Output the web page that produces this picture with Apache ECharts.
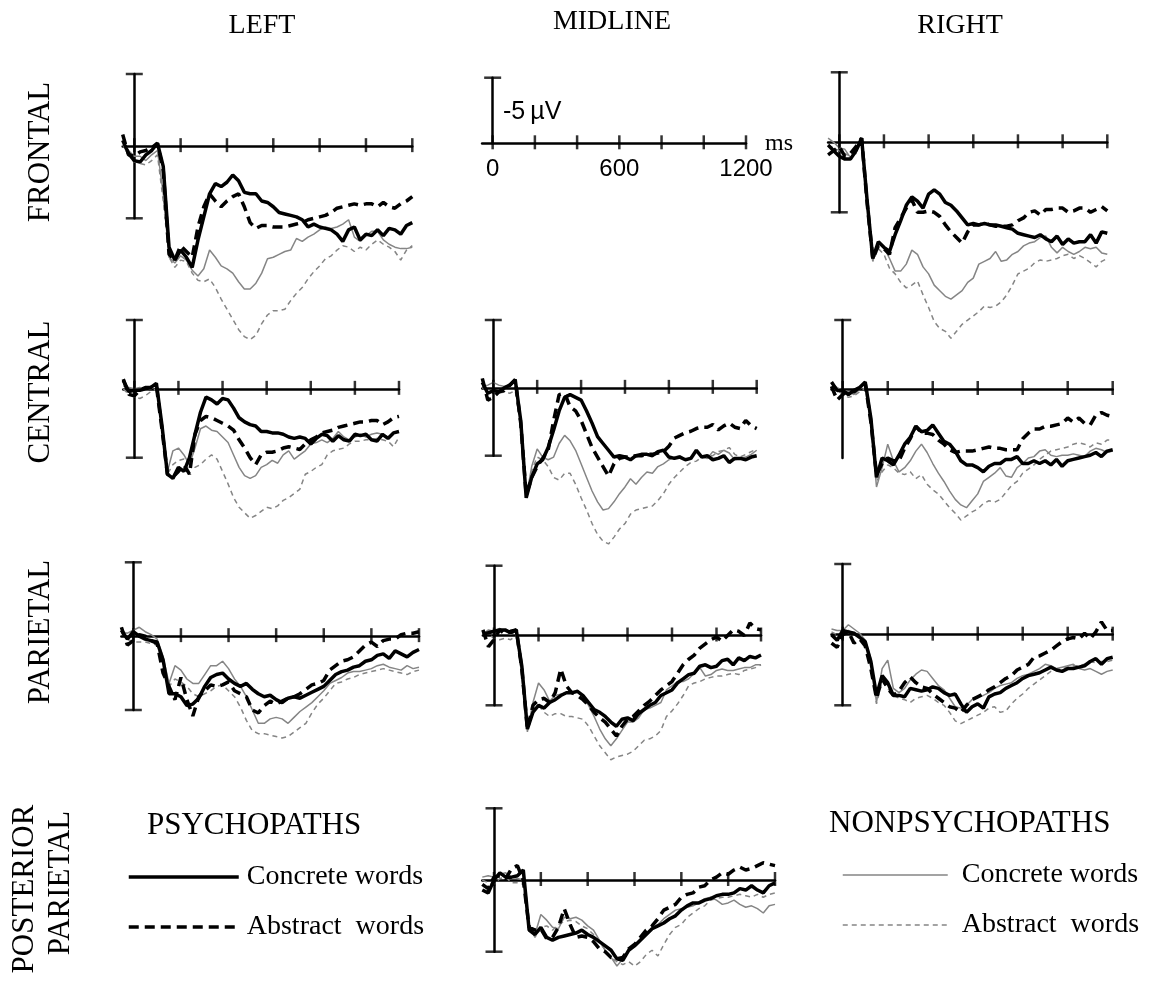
<!DOCTYPE html>
<html>
<head>
<meta charset="utf-8">
<script src="https://cdn.jsdelivr.net/npm/echarts/dist/echarts.min.js"></script>
<style>
html,body{margin:0;padding:0;background:#fff;}
#chart{width:1150px;height:982px;}
</style>
</head>
<body>
<div id="chart"></div>
<script>
// ---------- DATA ----------
const times = [-50,-25,0,25,50,75,100,125,150,175,200,225,250,275,300,325,350,375,400,425,450,475,500,525,550,575,600,625,650,675,700,725,750,775,800,825,850,875,900,925,950,975,1000,1025,1050,1075,1100,1125,1150,1175,1200];
const xTickValues = [0,200,400,600,800,1000,1200];
const scaleLabelValues = [0,600,1200];
const seriesNames = ['Psychopaths concrete','Psychopaths abstract','Nonpsychopaths concrete','Nonpsychopaths abstract'];
const legendLabels = ['Concrete words','Abstract  words','Concrete words','Abstract  words'];
const columnTitles = ['LEFT','MIDLINE','RIGHT'];
const rowTitles = ['FRONTAL','CENTRAL','PARIETAL'];

// Frontal left
const FL_PC = [-0.4,0.5,1.0,1.1,0.6,0.3,-0.2,1.4,7.0,7.9,7.2,7.7,8.4,6.5,4.9,3.3,2.6,2.8,2.5,2.0,2.4,3.2,3.3,3.3,3.8,3.9,4.2,4.6,4.7,4.8,4.9,5.1,5.6,5.4,5.6,5.7,5.8,6.1,6.6,5.8,5.6,6.5,6.1,6.2,5.8,6.2,5.7,5.8,6.1,5.5,5.3];
const FL_PA = [-0.8,0.6,0.7,0.4,0.3,0.1,-0.2,1.7,7.5,7.9,6.9,7.3,7.7,5.6,4.2,3.3,3.8,4.2,3.8,3.5,3.3,4.2,5.3,5.7,5.5,5.5,5.6,5.6,5.6,5.5,5.4,5.3,5.1,5.0,4.9,4.8,4.6,4.3,4.2,4.1,4.0,4.1,4.0,4.0,4.2,3.9,4.2,4.3,4.0,3.8,3.5];
const FL_NC = [-0.3,0.3,0.7,0.7,1.0,0.6,0.3,3.3,7.7,8.1,7.6,7.9,8.6,9.0,8.5,7.2,7.7,8.3,8.5,8.8,9.4,9.9,9.9,9.5,8.8,7.8,7.7,7.5,7.3,7.2,6.4,6.6,6.3,6.1,5.8,5.6,5.7,5.6,5.4,5.1,6.3,6.6,6.2,5.9,5.9,6.5,6.8,7.0,7.1,7.1,7.0];
const FL_NA = [-0.1,0.6,1.1,1.2,1.3,1.0,0.6,3.8,7.7,8.4,7.9,8.0,8.8,9.3,9.4,9.2,9.8,10.6,11.3,12.0,12.7,13.2,13.4,13.1,12.3,11.7,11.4,11.4,11.3,10.7,10.2,9.8,9.2,8.7,8.3,7.8,7.6,7.2,6.9,7.0,7.3,7.0,7.2,6.8,6.5,6.8,7.0,7.3,7.9,7.2,6.9];
// Central left
const CL_PC = [-0.6,0.2,0.1,0.1,0.0,-0.1,-0.4,2.6,6.2,6.5,5.7,6.0,5.0,3.3,1.7,0.6,0.8,1.1,0.7,0.8,1.4,2.1,2.4,2.6,2.7,3.1,3.1,3.2,3.2,3.3,3.5,3.6,3.5,3.6,4.0,3.6,3.3,3.4,3.8,3.4,3.7,3.8,3.3,3.4,3.3,3.7,3.8,3.3,3.6,3.2,3.1];
const CL_PA = [-0.7,0.4,0.5,0.1,-0.1,-0.1,-0.2,2.9,6.2,6.4,6.0,5.5,6.2,3.3,2.3,2.0,2.1,2.3,2.5,2.7,3.0,3.7,4.3,5.0,5.5,4.8,4.6,4.6,4.5,4.3,4.2,4.3,4.4,4.0,3.7,3.5,3.2,3.1,3.0,2.8,2.7,2.6,2.5,2.4,2.4,2.3,2.3,2.6,2.4,2.1,2.0];
const CL_NC = [-0.2,-0.1,0.0,-0.1,0.1,0.0,-0.4,2.4,6.0,4.5,4.3,4.8,5.5,4.3,2.9,2.7,3.0,3.1,3.5,3.9,4.8,5.7,6.3,6.5,6.3,5.7,5.5,5.2,5.4,4.8,4.5,5.1,4.8,4.5,4.0,3.9,3.7,3.9,3.6,3.1,3.5,3.7,3.5,3.3,3.5,3.3,3.2,3.3,3.5,3.2,3.1];
const CL_NA = [0.0,0.4,0.6,0.7,0.5,0.2,0.0,2.9,6.2,5.5,5.2,5.1,5.5,5.7,5.5,5.1,4.8,5.1,6.0,6.9,7.9,8.6,9.0,9.4,9.2,8.9,8.6,8.7,8.5,8.1,7.9,7.6,7.3,6.2,6.0,5.7,5.5,4.8,4.5,4.4,4.3,4.0,3.8,3.8,3.7,3.7,3.6,3.7,3.8,4.2,3.5];
// Parietal left
const PL_PC = [-0.4,0.2,-0.3,0.0,0.2,0.3,0.4,1.6,3.9,3.9,4.1,4.7,4.6,4.2,3.4,2.8,2.6,2.5,2.9,3.2,3.4,3.2,3.6,3.9,4.1,4.0,4.3,4.5,4.2,4.1,4.2,4.0,3.8,3.6,3.4,3.0,2.6,2.4,2.3,2.1,2.0,1.7,1.6,1.3,1.2,1.5,1.0,1.2,1.4,1.1,0.9];
const PL_PA = [-0.6,0.6,0.3,-0.1,0.0,0.3,0.5,2.5,3.4,4.3,2.8,4.3,5.4,4.1,3.7,3.3,3.4,3.3,3.1,3.7,3.9,4.1,5.0,5.2,4.7,4.4,4.6,4.4,4.2,4.1,3.9,3.6,3.3,3.2,3.0,2.3,2.0,1.7,1.6,1.4,1.0,0.6,0.4,0.7,0.3,0.2,0.2,-0.1,-0.2,-0.2,-0.3];
const PL_NC = [-0.3,-0.2,-0.4,-0.6,-0.3,-0.1,0.2,1.4,3.2,2.0,2.3,2.9,3.2,3.2,2.6,2.0,2.0,1.7,2.2,2.9,3.4,4.1,5.0,5.9,5.9,5.6,5.5,5.6,5.9,5.5,5.1,4.8,4.5,4.1,3.7,3.2,3.0,2.8,2.5,2.4,2.4,2.3,2.2,2.0,1.9,2.1,2.2,2.3,2.0,2.2,2.1];
const PL_NA = [-0.2,0.2,0.4,0.4,0.4,0.5,0.6,1.9,3.4,2.9,3.1,3.4,3.9,4.1,3.9,3.7,3.4,3.3,3.7,4.1,4.8,5.7,6.4,6.6,6.6,6.7,6.8,6.9,6.8,6.5,6.2,5.9,5.2,4.6,4.2,3.7,3.2,3.1,2.9,2.8,2.6,2.5,2.4,2.3,2.2,2.3,2.4,2.5,2.6,2.4,2.3];
// Central midline
const CM_PC = [-0.4,0.4,0.2,0.3,0.0,-0.2,-0.6,2.4,8.1,6.6,5.6,5.3,4.4,3.1,1.7,0.7,0.5,0.7,0.9,1.7,2.6,3.6,4.1,4.6,5.1,5.0,5.1,5.3,5.0,4.9,4.9,5.0,4.7,4.6,5.1,5.2,5.1,5.3,5.2,4.6,5.1,5.0,5.3,5.2,5.0,5.5,5.2,5.2,5.3,5.1,5.0];
const CM_PA = [-0.7,0.9,0.7,0.3,0.2,-0.2,-0.6,2.6,7.9,6.6,5.8,5.2,4.6,2.4,0.5,0.4,1.4,1.7,2.4,3.4,4.4,5.1,5.8,6.5,5.6,5.2,5.1,5.1,5.0,5.0,4.9,4.9,4.8,4.7,4.3,3.7,3.5,3.3,3.2,3.0,2.9,2.9,2.7,3.1,2.8,2.6,2.9,3.0,2.4,2.8,3.0];
const CM_NC = [-0.1,-0.2,-0.4,-0.2,-0.1,-0.2,-0.6,2.4,8.1,5.8,4.5,5.1,5.3,5.1,4.1,3.5,3.9,4.6,5.6,6.6,7.6,8.4,9.0,8.9,8.4,7.8,7.3,6.7,7.1,6.6,6.2,6.3,5.8,5.6,5.3,5.1,5.0,5.3,5.1,4.7,5.1,5.2,4.7,4.9,4.6,4.8,5.3,5.2,5.1,4.9,4.6];
const CM_NA = [0.0,0.2,0.3,0.4,0.3,0.4,0.2,2.9,7.9,6.1,5.1,5.3,5.8,6.6,6.8,6.3,6.3,7.1,8.1,9.0,10.0,10.8,11.3,11.5,11.0,10.4,10.0,9.3,9.0,8.9,8.8,8.7,8.3,7.8,7.1,6.6,6.2,5.8,5.5,5.4,5.1,5.0,5.0,4.7,4.6,4.4,4.9,5.1,4.9,4.7,4.5];
// Parietal midline
const PM_PC = [-0.1,-0.2,-0.3,-0.4,-0.4,-0.2,-0.4,2.2,6.7,5.5,5.0,5.2,4.8,4.6,4.3,4.1,4.1,4.0,4.3,4.8,5.3,5.5,5.8,6.2,6.5,6.0,5.9,6.1,5.6,5.3,5.0,4.8,4.3,4.1,3.9,3.4,3.1,2.8,2.7,2.2,2.1,2.3,2.2,1.8,1.7,2.1,1.6,1.8,1.5,1.6,1.4];
const PM_PA = [-0.4,0.8,0.3,-0.4,-0.1,-0.3,-0.4,2.4,6.7,5.0,4.6,4.5,4.8,4.1,2.4,3.6,4.1,4.3,4.6,5.0,5.5,5.9,6.2,6.7,7.2,6.5,6.0,5.8,5.4,5.0,4.7,4.3,3.9,3.6,3.3,2.7,2.1,1.7,1.4,0.9,0.6,0.3,0.1,0.4,0.0,-0.4,-0.3,0.0,-0.9,-0.5,-0.4];
const PM_NC = [-0.1,-0.4,-0.3,-0.5,-0.3,-0.1,-0.3,2.7,6.9,4.8,3.4,3.9,4.7,4.3,4.2,4.1,4.1,3.9,4.5,5.0,5.8,6.7,7.4,7.9,7.4,6.8,6.2,6.2,5.9,5.3,5.2,5.0,4.8,3.9,3.6,3.3,3.3,3.1,2.7,2.3,2.9,2.8,2.5,2.4,2.5,2.5,2.4,2.3,2.3,2.1,2.1];
const PM_NA = [-0.2,-0.1,0.2,0.3,0.2,0.3,0.0,2.9,6.8,5.2,5.0,5.5,5.8,5.6,5.6,5.8,5.8,5.9,6.0,6.5,7.2,7.9,8.4,8.9,8.7,8.6,8.5,8.3,7.9,7.5,7.4,7.2,6.8,5.8,5.4,4.9,4.3,3.6,3.4,3.3,3.1,3.0,2.9,2.9,2.8,2.7,2.8,2.5,2.4,2.3,2.1];
// Posterior parietal midline
const PP_PC = [0.7,0.9,0.0,-0.5,-0.2,-0.2,-0.3,-0.7,3.5,3.8,3.3,4.0,4.2,4.0,3.9,3.8,3.7,3.5,3.8,4.0,4.3,4.6,4.9,5.5,5.6,4.9,4.6,4.2,3.8,3.4,3.2,3.0,2.7,2.5,2.1,1.8,1.6,1.6,1.4,1.3,1.1,1.0,1.0,0.9,0.6,0.7,0.4,0.7,0.9,0.4,0.2];
const PP_PA = [0.3,0.6,-0.2,-0.3,-0.1,-0.8,-1.0,0.0,3.3,3.5,3.4,4.1,4.0,3.3,2.0,3.1,4.0,3.9,4.0,4.3,4.8,5.0,5.4,5.5,5.4,4.8,4.5,4.0,3.5,3.2,2.7,2.1,1.9,1.7,1.2,1.0,0.9,0.5,0.4,0.0,-0.2,-0.5,-0.4,-0.7,-0.9,-0.7,-0.8,-1.0,-1.2,-1.1,-1.0];
const PP_NC = [-0.2,-0.3,-0.2,-0.4,-0.5,-0.2,-0.1,0.0,3.1,3.8,2.4,2.8,3.3,3.4,2.6,2.7,2.6,2.8,3.2,3.5,4.2,4.9,5.4,6.0,5.5,4.9,4.5,4.1,3.8,3.4,3.1,2.7,2.4,2.1,2.0,1.9,1.8,1.6,1.3,1.2,1.4,1.7,1.6,1.4,1.7,1.9,1.8,2.0,2.3,1.8,1.7];
const PP_NA = [0.0,0.2,0.3,-0.1,-0.2,0.2,0.2,0.3,3.2,4.0,3.3,3.2,3.5,3.1,2.9,2.8,2.9,3.2,3.4,3.8,4.3,4.9,5.4,5.7,5.9,5.7,6.0,5.7,5.2,4.9,5.3,4.5,3.8,3.3,3.1,2.6,2.3,2.0,1.8,1.4,1.3,1.2,1.2,1.1,1.0,1.1,1.2,1.0,1.2,1.0,0.9];
// Frontal right
const FR_PC = [0.2,0.6,1.0,1.2,1.2,0.6,-0.3,4.2,8.3,7.1,7.5,7.8,6.6,5.6,4.5,3.9,4.2,4.7,3.7,3.4,3.7,4.3,4.5,4.9,5.4,5.9,5.8,5.9,5.8,5.9,5.9,6.0,6.1,6.2,6.5,6.6,6.7,6.8,6.6,6.9,7.1,6.7,7.3,6.9,7.2,7.1,7.1,6.6,7.2,6.4,6.5];
const FR_PA = [0.9,0.6,0.3,1.0,0.8,0.3,-0.3,4.4,8.3,7.4,7.6,8.0,6.1,5.4,4.7,4.1,5.0,5.0,4.9,5.0,5.3,5.9,6.4,6.8,7.2,6.4,5.9,5.9,5.8,5.9,6.0,6.0,6.0,5.9,5.6,5.4,5.0,4.9,5.2,4.8,4.8,4.7,4.7,5.0,4.9,4.7,4.7,5.0,4.8,4.6,4.9];
const FR_NC = [-0.3,0.0,0.4,0.5,1.1,0.6,-0.3,4.2,8.5,7.1,7.5,8.3,9.2,9.2,8.7,7.7,8.0,8.9,9.4,10.2,10.6,11.0,11.2,10.9,10.6,10.0,9.7,8.7,8.5,8.3,7.8,8.5,8.4,8.0,7.8,7.4,7.2,7.1,6.8,6.7,7.5,7.9,7.5,7.8,8.0,7.8,7.5,7.6,7.5,7.9,8.0];
const FR_NA = [0.2,0.4,0.6,0.8,1.0,0.8,-0.1,4.4,8.5,7.6,8.0,9.0,9.4,10.0,10.4,10.2,9.9,10.9,11.8,12.8,13.3,13.5,14.0,13.5,13.0,12.7,12.4,12.1,11.7,11.8,11.7,11.4,10.9,10.2,9.4,9.2,9.0,8.6,8.4,8.5,8.4,8.3,8.1,8.0,8.3,8.1,8.3,8.6,8.9,8.5,8.3];
// Central right
const CR_PC = [-0.5,0.1,0.1,0.4,0.1,-0.1,-0.5,2.1,6.4,5.0,5.2,5.5,4.8,4.0,3.5,2.7,3.1,3.0,2.6,3.2,3.8,4.0,4.5,5.2,5.5,5.5,5.7,6.0,5.6,5.4,5.4,5.1,5.1,4.9,5.4,5.4,5.2,5.4,5.2,5.5,5.1,5.6,5.2,5.1,5.0,4.9,4.8,4.6,4.9,4.5,4.4];
const CR_PA = [-0.2,0.8,0.4,0.1,0.2,-0.1,-0.4,2.4,6.2,5.4,5.0,5.2,5.2,4.3,3.6,2.7,3.2,3.2,3.3,3.7,4.0,4.4,4.6,4.5,4.5,4.5,4.4,4.3,4.2,4.3,4.3,4.4,4.4,4.4,3.6,3.2,2.9,2.9,2.7,2.7,2.6,2.5,2.1,2.4,2.1,2.5,2.6,1.9,1.7,1.9,2.0];
const CR_NC = [-0.4,-0.1,0.1,0.2,0.4,0.0,-0.4,2.4,7.1,5.7,4.0,5.2,6.0,5.7,5.2,4.5,4.0,4.6,5.4,6.1,6.7,7.4,8.0,8.4,8.6,8.1,7.6,6.7,6.4,6.1,5.7,6.3,6.4,5.7,5.4,5.0,4.9,4.5,4.4,4.8,4.9,4.8,4.8,4.7,4.8,4.9,4.5,4.3,4.4,4.6,4.5];
const CR_NA = [-0.1,0.1,0.4,0.6,0.5,0.2,-0.1,2.6,6.7,6.0,5.5,5.7,6.1,6.2,6.0,6.5,6.2,6.9,7.3,7.6,8.1,8.6,9.0,9.5,9.2,8.9,8.7,8.3,8.1,8.2,8.0,7.5,7.0,6.7,6.1,5.8,5.5,5.1,4.8,4.5,4.4,4.3,4.2,4.0,3.9,4.0,4.2,3.9,4.0,3.7,3.7];
// Parietal right
const PR_PC = [0.0,0.4,-0.3,-0.2,-0.1,0.2,0.5,1.9,4.3,2.9,3.4,4.3,4.3,4.4,3.8,3.9,4.0,3.9,3.7,3.8,4.1,4.3,4.2,4.9,5.5,5.1,4.9,5.2,4.4,4.2,4.1,3.8,3.6,3.4,3.1,2.9,2.8,2.7,2.5,2.3,2.5,2.6,2.4,2.4,2.3,2.2,1.9,1.7,2.1,1.7,1.6];
const PR_PA = [0.6,0.9,0.0,-0.2,0.6,0.3,0.8,2.4,4.5,3.1,3.8,4.3,4.0,3.4,3.0,3.4,3.7,3.8,4.2,4.5,4.8,5.1,5.2,5.5,5.0,4.6,4.4,4.2,3.9,3.7,3.4,3.1,2.9,2.5,2.3,2.1,1.6,1.5,1.3,1.1,0.8,0.5,0.3,0.2,0.3,-0.1,0.3,-0.2,-0.9,-0.3,-0.3];
const PR_NC = [-0.4,-0.3,-0.3,-0.7,-0.4,-0.1,0.4,1.7,4.8,2.4,1.8,3.8,4.1,3.8,3.2,2.8,2.5,2.6,3.1,3.6,3.9,4.5,5.1,5.2,5.0,4.6,4.4,4.3,4.1,3.8,3.6,3.5,3.4,3.1,2.9,2.8,2.6,2.4,2.1,2.2,2.4,2.3,2.2,2.1,2.4,2.5,2.4,2.6,2.8,2.6,2.5];
const PR_NA = [-0.2,0.0,-0.1,-0.3,0.0,0.2,0.5,2.0,4.9,3.3,3.8,4.3,4.5,4.6,4.8,4.5,4.4,4.3,4.5,4.8,5.0,5.5,6.1,6.3,6.1,5.9,5.7,5.5,5.2,5.1,5.5,5.4,4.9,4.5,4.2,3.8,3.5,3.2,2.9,2.6,2.5,2.4,2.3,2.2,2.2,2.1,1.9,2.0,1.9,1.9,1.8];

// ---------- PANELS (data) ----------
const panels = [
  {key:'FL', series:[FL_PC, FL_PA, FL_NC, FL_NA], caps:[-5,5]},
  {key:'CL', series:[CL_PC, CL_PA, CL_NC, CL_NA], caps:[-5,5]},
  {key:'PL', series:[PL_PC, PL_PA, PL_NC, PL_NA], caps:[-5,5]},
  {key:'SC', series:[], caps:[-5]},
  {key:'CM', series:[CM_PC, CM_PA, CM_NC, CM_NA], caps:[-5,5]},
  {key:'PM', series:[PM_PC, PM_PA, PM_NC, PM_NA], caps:[-5,5]},
  {key:'PP', series:[PP_PC, PP_PA, PP_NC, PP_NA], caps:[-5,5]},
  {key:'FR', series:[FR_PC, FR_PA, FR_NC, FR_NA], caps:[-5,5]},
  {key:'CR', series:[CR_PC, CR_PA, CR_NC, CR_NA], caps:[-5]},
  {key:'PR', series:[PR_PC, PR_PA, PR_NC, PR_NA], caps:[-5,5]}
];

// ---------- LAYOUT (positions & styles) ----------
const layout = {
  FL:{left:122.7, top:74,    width:289.6, height:144.3},
  CL:{left:123.3, top:320,   width:275.7, height:137.7},
  PL:{left:121.4, top:562.3, width:297.6, height:147.7},
  SC:{left:482.1, top:77.7,  width:263.9, height:65.6},
  CM:{left:482.3, top:320,   width:274.4, height:135.7},
  PM:{left:482.9, top:565.7, width:278.1, height:139.6},
  PP:{left:482.3, top:808.3, width:292.7, height:143.4},
  FR:{left:828.1, top:72.3,  width:279.2, height:140},
  CR:{left:831.5, top:320,   width:281.2, height:138},
  PR:{left:831.5, top:564,   width:281.2, height:141.3}
};
const lineStyles = [
  {color:'#000', width:3.5, type:'solid', z:5},
  {color:'#000', width:3.5, type:[10,6], z:4},
  {color:'#858585', width:1.5, type:'solid', z:3},
  {color:'#858585', width:1.5, type:[5,4], z:2}
];
const SERIF = '"Liberation Serif", "Times New Roman", serif';
const SANS = '"Liberation Sans", Arial, sans-serif';

const grids = [], xAxes = [], yAxes = [], series = [];
panels.forEach((p, i) => {
  const L = layout[p.key];
  const isScale = p.key === 'SC';
  grids.push({left:L.left, top:L.top, width:L.width, height:L.height, containLabel:false});
  xAxes.push({
    type:'value', gridIndex:i, min:-50, max:1200,
    axisLine:{show:true, onZero:true, lineStyle:{color:'#000', width:2.5}},
    axisTick:{show:false}, splitLine:{show:false},
    axisLabel: isScale ? {show:true, customValues:scaleLabelValues, formatter:v => String(v),
      color:'#000', fontSize:24, fontFamily:SANS, margin:14} : {show:false},
    name: isScale ? 'ms' : '', nameLocation:'end', nameGap:19,
    nameTextStyle:{color:'#000', fontSize:24, fontFamily:SERIF}
  });
  yAxes.push({
    type:'value', gridIndex:i, min:-5, max: isScale ? 0 : 5, inverse:true,
    axisLine:{show:true, onZero:true, lineStyle:{color:'#000', width:2.5}},
    axisTick:{show:false}, axisLabel:{show:false}, splitLine:{show:false}
  });
  // tick marks on the time axis
  series.push({
    type:'scatter', xAxisIndex:i, yAxisIndex:i, silent:true, clip:false, z:6,
    symbol:'rect', symbolSize:[2.5,14], symbolOffset:[0,-1],
    itemStyle:{color:'#000'}, data:xTickValues.map(v => [v, 0])
  });
  // end caps of the voltage scale
  series.push({
    type:'scatter', xAxisIndex:i, yAxisIndex:i, silent:true, clip:false, z:6,
    symbol:'rect', symbolSize:[17,2.5],
    itemStyle:{color:'#000'}, data:p.caps.map(v => [0, v])
  });
  // waveforms
  p.series.forEach((vals, k) => {
    const st = lineStyles[k];
    series.push({
      type:'line', name:seriesNames[k], xAxisIndex:i, yAxisIndex:i,
      data: times.map((t, j) => [t, vals[j]]),
      symbol:'none', showSymbol:false, clip:false, silent:true, z:st.z,
      lineStyle:{color:st.color, width:st.width, type:st.type},
      itemStyle:{color:st.color}
    });
  });
});

const graphic = [];
const colX = [262, 612, 960], colY = [26, 22, 26];
columnTitles.forEach((t, i) => graphic.push({type:'text', x:colX[i], y:colY[i],
  style:{text:t, fill:'#000', font:'28px ' + SERIF, align:'center', verticalAlign:'middle'}}));
const rowY = [152, 392, 632];
rowTitles.forEach((t, i) => graphic.push({type:'text', x:41, y:rowY[i], rotation:Math.PI/2,
  style:{text:t, fill:'#000', font:'31px ' + SERIF, align:'center', verticalAlign:'middle'}}));
graphic.push({type:'text', x:25, y:889, rotation:Math.PI/2,
  style:{text:'POSTERIOR', fill:'#000', font:'31px ' + SERIF, align:'center', verticalAlign:'middle'}});
graphic.push({type:'text', x:61, y:883, rotation:Math.PI/2,
  style:{text:'PARIETAL', fill:'#000', font:'31px ' + SERIF, align:'center', verticalAlign:'middle'}});
graphic.push({type:'text', x:147, y:826,
  style:{text:'PSYCHOPATHS', fill:'#000', font:'31px ' + SERIF, align:'left', verticalAlign:'middle'}});
graphic.push({type:'text', x:829, y:824,
  style:{text:'NONPSYCHOPATHS', fill:'#000', font:'31px ' + SERIF, align:'left', verticalAlign:'middle'}});
graphic.push({type:'text', x:503, y:112,
  style:{text:'-5\u2009\u00b5V', fill:'#000', font:'25px ' + SANS, align:'left', verticalAlign:'middle'}});

const legendFmt = name => legendLabels[seriesNames.indexOf(name)];
const option = {
  animation:false,
  backgroundColor:'#fff',
  grid:grids, xAxis:xAxes, yAxis:yAxes, series:series,
  graphic:graphic,
  legend:[
    {data:[seriesNames[0], seriesNames[1]], orient:'vertical', left:127, top:862, padding:0,
     itemWidth:110, itemHeight:14, itemGap:20, selectedMode:false, formatter:legendFmt,
     lineStyle:{width:'inherit'}, itemStyle:{opacity:0},
     textStyle:{color:'#000', fontFamily:SERIF, fontSize:28, lineHeight:30, padding:[0,0,0,3]}},
    {data:[seriesNames[2], seriesNames[3]], orient:'vertical', left:842, top:860, padding:0,
     itemWidth:105, itemHeight:14, itemGap:20, selectedMode:false, formatter:legendFmt,
     lineStyle:{width:'inherit'}, itemStyle:{opacity:0},
     textStyle:{color:'#000', fontFamily:SERIF, fontSize:28, lineHeight:30, padding:[0,0,0,9]}}
  ]
};
const chart = echarts.init(document.getElementById('chart'), null, {renderer:'canvas'});
chart.setOption(option);
</script>
</body>
</html>
